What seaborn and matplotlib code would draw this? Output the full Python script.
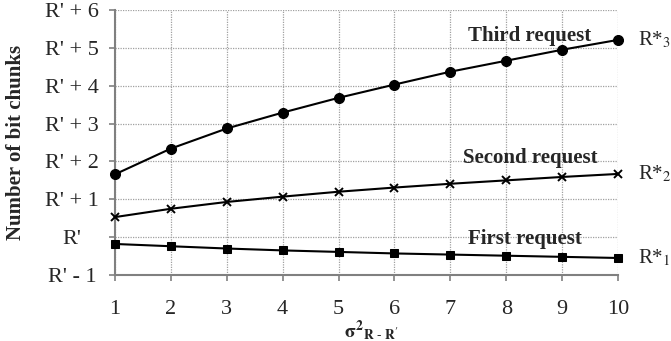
import matplotlib
matplotlib.use("Agg")
import matplotlib.pyplot as plt
import seaborn as sns
import pandas as pd

# variance of R - R'
variance = [1, 2, 3, 4, 5, 6, 7, 8, 9, 10]
# bit chunks relative to R'
first_request = [-0.18, -0.24, -0.30, -0.35, -0.39, -0.43, -0.46, -0.49, -0.52, -0.55]
second_request = [0.53, 0.75, 0.93, 1.07, 1.20, 1.31, 1.41, 1.50, 1.59, 1.67]
third_request = [1.66, 2.34, 2.87, 3.29, 3.68, 4.03, 4.37, 4.66, 4.95, 5.21]
y_ticks = [-1, 0, 1, 2, 3, 4, 5, 6]
y_tick_labels = ["R' - 1", "R'", "R' + 1", "R' + 2", "R' + 3", "R' + 4", "R' + 5", "R' + 6"]

sns.set_style("ticks")
plt.rcParams["font.family"] = ["Liberation Serif", "DejaVu Serif"]
plt.rcParams["mathtext.fontset"] = "stix"

fig = plt.figure(figsize=(6.71, 3.41), dpi=100)
ax = fig.add_axes([0.1714, 0.1935, 0.7496, 0.7772])

df = pd.DataFrame({"x": variance, "first": first_request,
                   "second": second_request, "third": third_request})

sns.lineplot(data=df, x="x", y="third", ax=ax, color="black", lw=1.5,
             marker="o", markersize=7.2, markeredgecolor="black", clip_on=False, zorder=5)
sns.lineplot(data=df, x="x", y="second", ax=ax, color="black", lw=1.5,
             marker="x", markersize=5.2, markeredgewidth=1.4, markeredgecolor="black",
             clip_on=False, zorder=5)
sns.lineplot(data=df, x="x", y="first", ax=ax, color="black", lw=1.5,
             marker="s", markersize=6.4, markeredgecolor="black", clip_on=False, zorder=5)

ax.set_xlim(1, 10)
ax.set_ylim(-1, 6)
ax.set_xticks(variance)
ax.set_yticks(y_ticks)
ax.set_yticklabels(y_tick_labels)
ax.tick_params(axis="both", labelsize=16, color="#808080", length=4, width=1.2)
ax.tick_params(axis="x", pad=14)
ax.tick_params(axis="y", pad=27)
for lbl in ax.get_yticklabels():
    lbl.set_horizontalalignment("center")

ax.grid(True, linestyle=(0, (1, 1)), color="#a0a0a0", lw=0.9)
for side in ("top", "right"):
    ax.spines[side].set_visible(False)
for side in ("left", "bottom"):
    ax.spines[side].set_color("#808080")
    ax.spines[side].set_linewidth(1.5)

ax.set_ylabel("Number of bit chunks", fontsize=15, fontweight="bold")
ax.yaxis.label.set_verticalalignment("center")
ax.yaxis.set_label_coords(-0.197, 0.5)
ax.set_xlabel(r"$\mathbf{\sigma^2}_{\mathbf{R\ \text{-}\ R'}}$", fontsize=14)
ax.xaxis.label.set_verticalalignment("center")
ax.xaxis.set_label_coords(0.51, -0.208)

ax.text(7.31, 5.32, "Third request", fontsize=15, fontweight="bold",
        ha="left", va="center")
ax.text(7.23, 2.1, "Second request", fontsize=15, fontweight="bold",
        ha="left", va="center")
ax.text(7.31, -0.05, "First request", fontsize=15, fontweight="bold",
        ha="left", va="center")

for name, ys in (("3", third_request), ("2", second_request), ("1", first_request)):
    ax.text(10.36, ys[9], r"R*$_{" + name + "}$", fontsize=15, ha="left", va="center",
            clip_on=False)

fig.savefig("out.png", dpi=100)
